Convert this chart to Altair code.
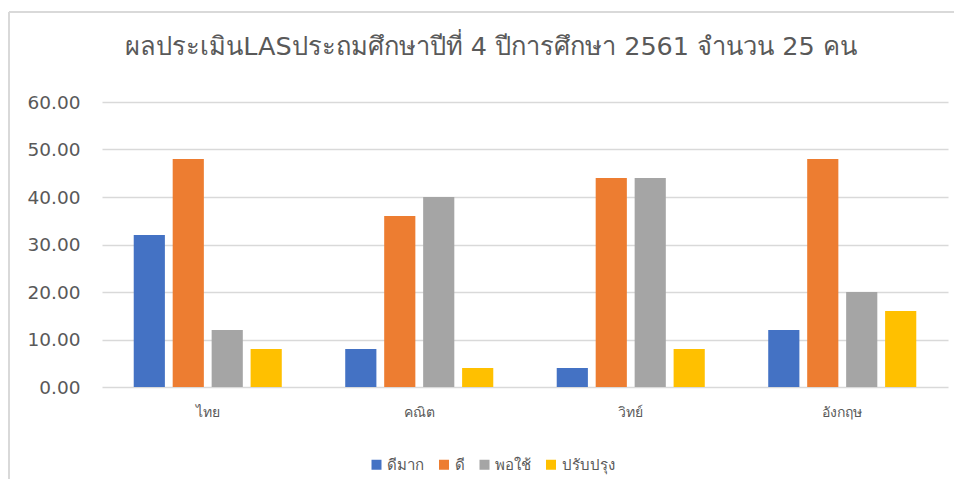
import altair as alt
import pandas as pd

subjects = ["ไทย", "คณิต", "วิทย์", "อังกฤษ"]
levels = ["ดีมาก", "ดี", "พอใช้", "ปรับปรุง"]
colors = ["#4472C4", "#ED7D31", "#A5A5A5", "#FFC000"]
values = {
    "ดีมาก": [32, 8, 4, 12],
    "ดี": [48, 36, 44, 48],
    "พอใช้": [12, 40, 44, 20],
    "ปรับปรุง": [8, 4, 8, 16],
}
title_text = "ผลประเมินLASประถมศึกษาปีที่ 4 ปีการศึกษา 2561 จำนวน 25 คน"

rows = []
for lv in levels:
    for s, v in zip(subjects, values[lv]):
        rows.append({"subject": s, "level": lv, "value": v})
df = pd.DataFrame(rows)

FONT = "DejaVu Sans"
GRAY = "#595959"

bars = alt.Chart(df).mark_bar().encode(
    x=alt.X("subject:N", sort=subjects, title=None,
            scale=alt.Scale(paddingInner=0.3, paddingOuter=0.15),
            axis=alt.Axis(labelAngle=0, ticks=False, domain=False, labelPadding=18,
                          labelFontSize=14, labelColor=GRAY, labelFont=FONT)),
    xOffset=alt.XOffset("level:N", sort=levels,
                        scale=alt.Scale(domain=levels, paddingInner=0.2, paddingOuter=0)),
    y=alt.Y("value:Q", title=None,
            scale=alt.Scale(domain=[0, 60]),
            axis=alt.Axis(values=[0, 10, 20, 30, 40, 50, 60], format=".2f",
                          ticks=False, domain=False, labelPadding=22,
                          labelFontSize=18.5, labelColor=GRAY, labelFont=FONT,
                          gridColor="#D9D9D9", gridWidth=1.5)),
    color=alt.Color("level:N", sort=levels,
                    scale=alt.Scale(domain=levels, range=colors),
                    legend=alt.Legend(title=None, orient="none", direction="horizontal",
                                      legendX=267, legendY=355, symbolType="square",
                                      symbolSize=100, symbolStrokeWidth=0,
                                      labelFontSize=15, labelColor=GRAY, labelFont=FONT,
                                      columnPadding=12.5, labelOffset=3)),
)

border_left = alt.Chart(df).mark_rule(color="#D9D9D9", strokeWidth=2).encode(
    x=alt.value(-93), y=alt.value(-90), y2=alt.value(400))
border_top = alt.Chart(df).mark_rule(color="#D9D9D9", strokeWidth=2).encode(
    x=alt.value(-93), x2=alt.value(870), y=alt.value(-90))

chart = alt.layer(bars, border_left, border_top).properties(
    width=846, height=285,
    title=alt.TitleParams(title_text, fontSize=25.5, font=FONT, color=GRAY,
                          fontWeight="normal", anchor="middle", dx=-34, offset=0, dy=49),
    autosize=alt.AutoSizeParams(type="none"),
    padding={"left": 94, "top": 94, "right": 6, "bottom": 92},
).configure_view(stroke=None)

chart.save("out.html", embed_options={"renderer": "svg", "actions": False})
